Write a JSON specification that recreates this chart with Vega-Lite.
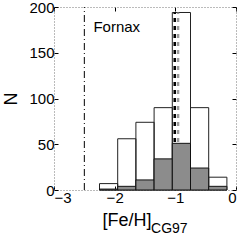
{
  "$schema": "https://vega.github.io/schema/vega-lite/v6.json",
  "width": 182,
  "height": 183,
  "autosize": "none",
  "padding": {"left": 54, "top": 7, "right": 12, "bottom": 50},
  "config": {
    "font": "Liberation Sans",
    "view": {"stroke": null},
    "axis": {
      "domainColor": "#777777",
      "domainDash": [1, 2],
      "domainWidth": 1,
      "tickColor": "black",
      "tickSize": -4,
      "labelFont": "Liberation Sans",
      "labelFontSize": 15,
      "labelColor": "black",
      "titleFont": "Liberation Sans",
      "titleFontWeight": "normal",
      "titleColor": "black",
      "grid": false
    }
  },
  "datasets": {
    "bins": [
      {"x0": -2.25, "x1": -1.95, "all": 7, "sub": 1},
      {"x0": -1.95, "x1": -1.65, "all": 56, "sub": 4},
      {"x0": -1.65, "x1": -1.35, "all": 74, "sub": 11},
      {"x0": -1.35, "x1": -1.05, "all": 90, "sub": 34},
      {"x0": -1.05, "x1": -0.75, "all": 194, "sub": 51},
      {"x0": -0.75, "x1": -0.45, "all": 90, "sub": 24},
      {"x0": -0.45, "x1": -0.15, "all": 14, "sub": 4}
    ],
    "lines": [
      {"kind": "dashdot", "x": -2.5, "y0": 0, "y1": 200},
      {"kind": "black", "x": -1.01, "y0": 0, "y1": 194},
      {"kind": "grey", "x": -0.955, "y0": 0, "y1": 194}
    ]
  },
  "resolve": {"scale": {"x": "independent", "y": "independent"}, "axis": {"x": "independent", "y": "independent"}},
  "layer": [
    {
      "data": {"name": "bins"},
      "mark": {"type": "bar", "fill": "white", "fillOpacity": 0, "stroke": "#222222", "strokeWidth": 1},
      "encoding": {
        "x": {"field": "x0", "type": "quantitative", "scale": {"domain": [-3, 0], "nice": false, "zero": false},
          "axis": {"orient": "bottom", "values": [-3, -2, -1, 0], "title": "[Fe/H]", "titleFontSize": 18, "titleAlign": "right", "titleAnchor": "start", "titleX": 97, "titleY": 35, "titleBaseline": "alphabetic", "labelPadding": 4}},
        "x2": {"field": "x1"},
        "y": {"field": "all", "type": "quantitative", "scale": {"domain": [0, 200], "nice": false},
          "axis": {"orient": "left", "values": [0, 50, 100, 150, 200], "title": "N", "titleFontSize": 18, "titlePadding": 8, "labelPadding": 4}},
        "y2": {"datum": 0}
      }
    },
    {
      "data": {"name": "lines"},
      "transform": [{"filter": "datum.kind != 'dashdot'"}],
      "mark": {"type": "rule", "strokeWidth": 2.5, "strokeDash": [4, 4]},
      "encoding": {
        "x": {"field": "x", "type": "quantitative", "scale": {"domain": [-3, 0], "nice": false, "zero": false}, "axis": {"orient": "top", "values": [-3, -2, -1, 0], "labels": false, "title": null}},
        "y": {"field": "y0", "type": "quantitative", "scale": {"domain": [0, 200], "nice": false}, "axis": {"orient": "right", "values": [0, 50, 100, 150, 200], "labels": false, "title": null}},
        "y2": {"field": "y1"},
        "color": {"field": "kind", "type": "nominal", "scale": {"domain": ["black", "grey"], "range": ["black", "#999999"]}, "legend": null}
      }
    },
    {
      "data": {"name": "lines"},
      "transform": [{"filter": "datum.kind == 'dashdot'"}],
      "mark": {"type": "rule", "strokeWidth": 1, "strokeDash": [7, 3, 1, 3], "color": "black"},
      "encoding": {
        "x": {"field": "x", "type": "quantitative", "scale": {"domain": [-3, 0], "nice": false, "zero": false}, "axis": null},
        "y": {"field": "y0", "type": "quantitative", "scale": {"domain": [0, 200], "nice": false}, "axis": null},
        "y2": {"field": "y1"}
      }
    },
    {
      "data": {"name": "bins"},
      "mark": {"type": "bar", "fill": "#8c8c8c", "stroke": "#111111", "strokeWidth": 1},
      "encoding": {
        "x": {"field": "x0", "type": "quantitative", "scale": {"domain": [-3, 0], "nice": false, "zero": false}, "axis": null},
        "x2": {"field": "x1"},
        "y": {"field": "sub", "type": "quantitative", "scale": {"domain": [0, 200], "nice": false}, "axis": null},
        "y2": {"datum": 0}
      }
    },
    {
      "data": {"values": [{"label": "Fornax"}]},
      "mark": {"type": "text", "fontSize": 15, "align": "left", "baseline": "middle", "color": "black"},
      "encoding": {
        "x": {"datum": -2.35, "type": "quantitative", "scale": {"domain": [-3, 0], "nice": false, "zero": false}, "axis": null},
        "y": {"datum": 178, "type": "quantitative", "scale": {"domain": [0, 200], "nice": false}, "axis": null},
        "text": {"field": "label"}
      }
    },
    {
      "data": {"values": [{"label": "CG97"}]},
      "mark": {"type": "text", "fontSize": 14, "align": "left", "baseline": "alphabetic", "color": "black"},
      "encoding": {
        "x": {"datum": -1.4, "type": "quantitative", "scale": {"domain": [-3, 0], "nice": false, "zero": false}, "axis": null},
        "y": {"datum": -47, "type": "quantitative", "scale": {"domain": [0, 200], "nice": false}, "axis": null},
        "text": {"field": "label"}
      }
    }
  ]
}
